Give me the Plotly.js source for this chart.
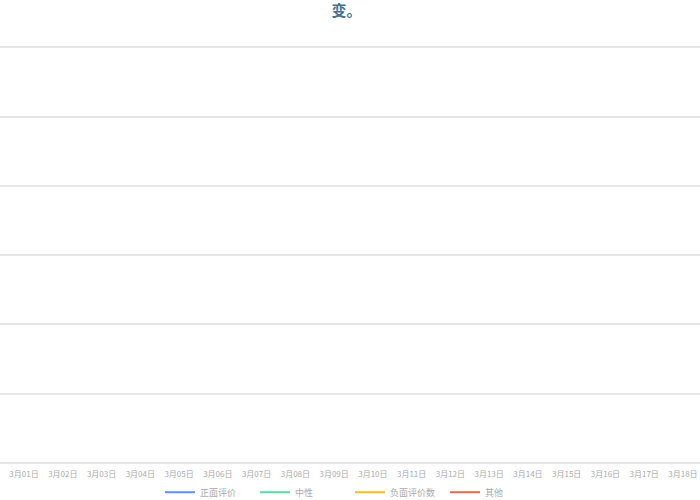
<!DOCTYPE html>
<html>
<head>
<meta charset="utf-8">
<script src="https://cdn.plot.ly/plotly-3.0.1.min.js"></script>
<style>
  html, body { margin: 0; padding: 0; background: #fff; }
  #chart { width: 700px; height: 500px; }
</style>
</head>
<body>
<div id="chart"></div>
<script>
var dates = ['3月01日', '3月02日', '3月03日', '3月04日', '3月05日', '3月06日',
             '3月07日', '3月08日', '3月09日', '3月10日', '3月11日', '3月12日',
             '3月13日', '3月14日', '3月15日', '3月16日', '3月17日', '3月18日'];

var seriesNames = ['正面评价', '中性', '负面评价数', '其他'];

// no values are drawn in the picture, so every series is empty
var positive = [null, null, null, null, null, null, null, null, null, null, null, null, null, null, null, null, null, null];
var neutral  = [null, null, null, null, null, null, null, null, null, null, null, null, null, null, null, null, null, null];
var negative = [null, null, null, null, null, null, null, null, null, null, null, null, null, null, null, null, null, null];
var other    = [null, null, null, null, null, null, null, null, null, null, null, null, null, null, null, null, null, null];

var colors = ['#5b8ff9', '#5ad8a6', '#f6bd16', '#e8684a'];
var values = [positive, neutral, negative, other];

var data = values.map(function (v, i) {
  return {
    type: 'scatter',
    mode: 'lines',
    x: dates,
    y: v,
    name: seriesNames[i],
    line: { color: colors[i], width: 2 }
  };
});

var layout = {
  width: 700,
  height: 500,
  paper_bgcolor: '#fff',
  plot_bgcolor: '#fff',
  margin: { l: 0, r: 0, t: 44, b: 37, autoexpand: false },
  font: { family: '"Noto Sans CJK SC", "Noto Sans", sans-serif', color: '#999', size: 9 },
  title: {
    text: '<b>变。</b>',
    x: 0.495,
    xanchor: 'center',
    y: 0.99,
    yanchor: 'top',
    font: { size: 15, color: '#46708e', family: '"Noto Sans CJK SC", sans-serif' }
  },
  xaxis: {
    type: 'category',
    range: [-0.62, 17.44],
    showgrid: false,
    showline: false,
    zeroline: false,
    ticks: '',
    ticklabelstandoff: 5,
    tickfont: { size: 8, color: '#aaa' },
    fixedrange: true
  },
  yaxis: {
    range: [0, 6.05],
    dtick: 1,
    showticklabels: false,
    gridcolor: '#e6e6e6',
    gridwidth: 2,
    zeroline: true,
    zerolinecolor: '#e6e6e6',
    zerolinewidth: 2,
    fixedrange: true
  },
  showlegend: true,
  legend: {
    orientation: 'h',
    x: 0.5,
    xanchor: 'center',
    y: -0.035,
    yanchor: 'top',
    entrywidth: 50,
    itemwidth: 30,
    font: { size: 9, color: '#aaa' }
  }
};

Plotly.newPlot('chart', data, layout, { displayModeBar: false, staticPlot: true });
</script>
</body>
</html>
